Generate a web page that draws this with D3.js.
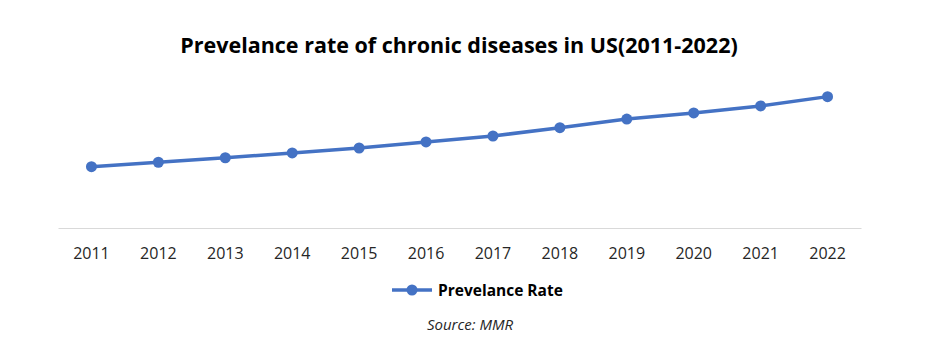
<!DOCTYPE html>
<html>
<head>
<meta charset="utf-8">
<script src="https://cdn.jsdelivr.net/npm/d3@7"></script>
<style>
  body { margin: 0; background: #fff; }
  svg { display: block; font-family: 'Open Sans', 'Noto Sans', sans-serif; }
</style>
</head>
<body>
<svg></svg>
<script>
const width = 940;
const height = 339;

// chart data
const years = ['2011', '2012', '2013', '2014', '2015', '2016', '2017', '2018', '2019', '2020', '2021', '2022'];
const prevalence = [38.3, 41.1, 43.9, 46.9, 50.0, 53.8, 57.5, 62.7, 68.1, 71.9, 76.3, 82.1];
const seriesName = 'Prevelance Rate';
const titleText = 'Prevelance rate of chronic diseases in US(2011-2022)';
const sourceText = 'Source: MMR';

const blue = '#4472C4';

const svg = d3.select('svg')
    .attr('width', width)
    .attr('height', height);

const x = d3.scaleBand()
    .domain(years)
    .range([58, 861]);

const y = d3.scaleLinear()
    .domain([0, 100])
    .range([228, 68]);

// title
svg.append('text')
    .attr('x', 459)
    .attr('y', 53)
    .attr('text-anchor', 'middle')
    .attr('font-size', 21.5)
    .attr('font-weight', 'bold')
    .attr('fill', '#000')
    .text(titleText);

// x axis
const xAxis = svg.append('g')
    .attr('transform', `translate(0, ${y(0)})`)
    .call(d3.axisBottom(x).tickSize(0).tickPadding(20));
xAxis.select('.domain').attr('stroke', '#d9d9d9').attr('stroke-width', 1);
xAxis.selectAll('text')
    .attr('font-size', 16)
    .attr('fill', '#262626')
    .attr('font-family', "'Open Sans', sans-serif");

const data = years.map((d, i) => ({year: d, value: prevalence[i]}));
const cx = d => x(d.year) + x.bandwidth() / 2;

const line = d3.line()
    .x(cx)
    .y(d => y(d.value));

svg.append('path')
    .datum(data)
    .attr('d', line)
    .attr('fill', 'none')
    .attr('stroke', blue)
    .attr('stroke-width', 3.5)
    .attr('stroke-linejoin', 'round');

svg.selectAll('circle.pt')
    .data(data)
    .enter().append('circle')
    .attr('class', 'pt')
    .attr('cx', cx)
    .attr('cy', d => y(d.value))
    .attr('r', 5.5)
    .attr('fill', blue);

// legend
const legend = svg.append('g').attr('transform', 'translate(392, 290)');
legend.append('line')
    .attr('x1', 0).attr('x2', 40)
    .attr('y1', 0).attr('y2', 0)
    .attr('stroke', blue)
    .attr('stroke-width', 3.5);
legend.append('circle')
    .attr('cx', 20).attr('cy', 0)
    .attr('r', 5.5)
    .attr('fill', blue);
legend.append('text')
    .attr('x', 46)
    .attr('y', 5.5)
    .attr('font-size', 15.5)
    .attr('font-weight', 'bold')
    .attr('fill', '#000')
    .text(seriesName);

// source
svg.append('text')
    .attr('x', 470)
    .attr('y', 330)
    .attr('text-anchor', 'middle')
    .attr('font-size', 15)
    .attr('font-style', 'italic')
    .attr('fill', '#262626')
    .text(sourceText);
</script>
</body>
</html>
